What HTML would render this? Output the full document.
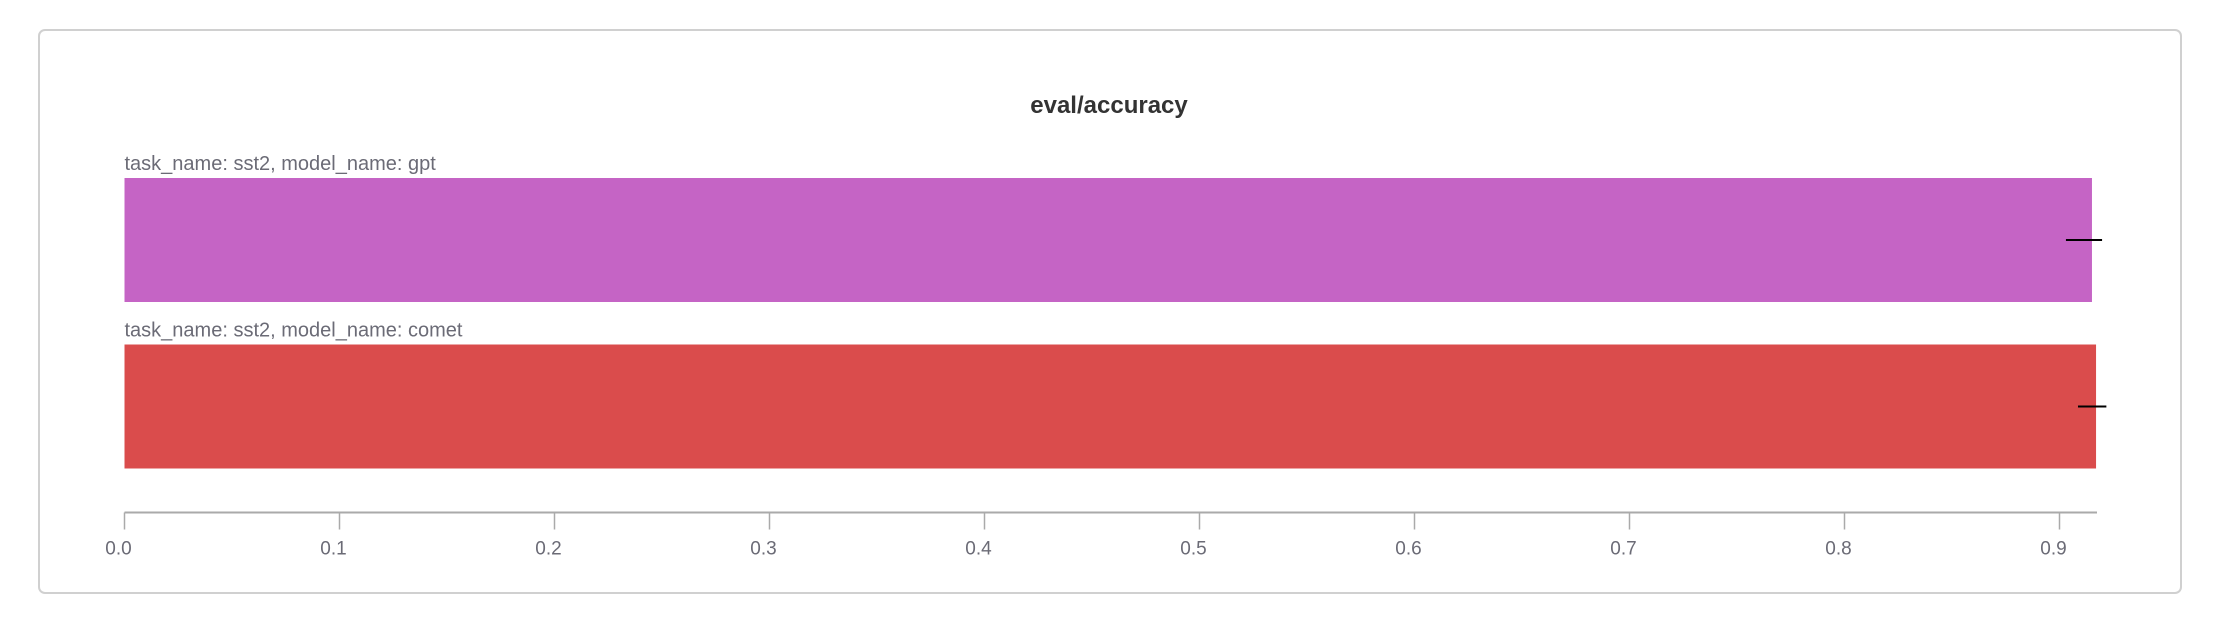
<!DOCTYPE html>
<html><head><meta charset="utf-8"><style>
html,body{margin:0;padding:0;background:#fff;width:2218px;height:620px;overflow:hidden}
svg{display:block;font-family:"Liberation Sans",sans-serif}
</style></head><body>
<svg id="chart" width="2218" height="620" viewBox="0 0 2218 620">
<rect x="39" y="30" width="2142" height="563" rx="6" fill="#fff" stroke="#d0d0d0" stroke-width="2"/>
<text x="1109" y="113" text-anchor="middle" font-size="24" font-weight="bold" fill="#333">eval/accuracy</text>
<g id="bars"></g>
<g id="axis"></g>
</svg>
<script>
const categories=["task_name: sst2, model_name: gpt","task_name: sst2, model_name: comet"];
const values=[0.9151,0.917];
const errLow=[0.903,0.9086];
const errHigh=[0.9198,0.9218];
const colors=["#c564c5","#da4c4c"];
const ticks=[0,0.1,0.2,0.3,0.4,0.5,0.6,0.7,0.8,0.9];
const tickLabels=["0.0","0.1","0.2","0.3","0.4","0.5","0.6","0.7","0.8","0.9"];
const NS="http://www.w3.org/2000/svg";
const x0=124.5,pxPer=2150,barTop0=178,barH=124,band=166.5,axisY=512.5,axisEnd=2097;
function xs(v){return x0+v*pxPer;}
function mk(t,a,p){const e=document.createElementNS(NS,t);for(const k in a)e.setAttribute(k,a[k]);p.appendChild(e);return e;}
const gb=document.getElementById('bars');
categories.forEach((c,i)=>{
 const y=barTop0+i*band;
 const lab=mk('text',{x:x0,y:y-8,'font-size':20,fill:'#6b6b76'},gb);
 lab.textContent=c;
 
 
 const r=mk('rect',{x:x0,y:y,width:xs(values[i])-x0,height:barH,fill:colors[i]},gb);
 
 
 const l=mk('line',{x1:xs(errLow[i]),x2:xs(errHigh[i]),y1:y+barH/2,y2:y+barH/2,stroke:'#000','stroke-width':2},gb);
 
 
});
const ga=document.getElementById('axis');
const al=mk('line',{x1:x0,x2:axisEnd,y1:axisY,y2:axisY,stroke:'#aaa','stroke-width':2},ga);


ticks.forEach((t,i)=>{
 const tl=mk('line',{x1:xs(t),x2:xs(t),y1:axisY,y2:axisY+17,stroke:'#aaa','stroke-width':1.5},ga);
 
 
 const tx=mk('text',{x:xs(t)-6,y:axisY+42,'text-anchor':'middle','font-size':19,fill:'#6b6b76'},ga);
 tx.textContent=tickLabels[i];
 
 
});
</script>
</body></html>
